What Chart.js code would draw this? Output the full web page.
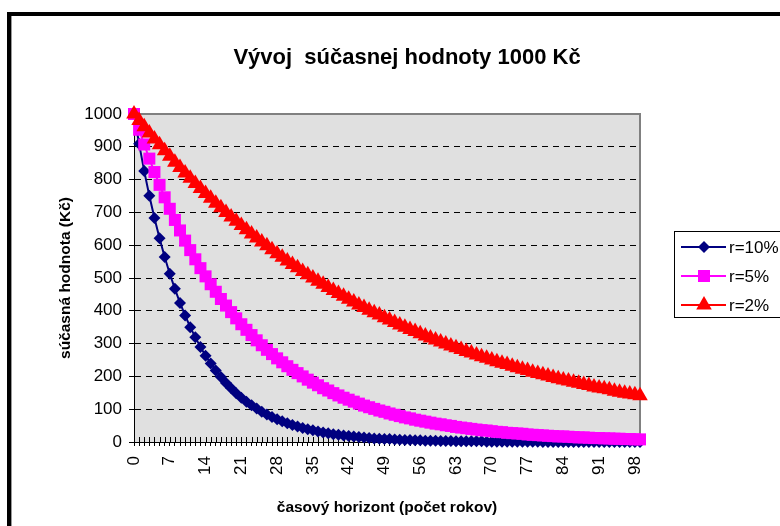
<!DOCTYPE html>
<html>
<head>
<meta charset="utf-8">
<script src="https://cdn.jsdelivr.net/npm/chart.js@4/dist/chart.umd.min.js"></script>
<style>
  html, body { margin: 0; padding: 0; background: #fff; }
  #wrap { width: 780px; height: 526px; position: relative; }
</style>
</head>
<body>
<div id="wrap"><canvas id="pvChart" width="780" height="526"></canvas></div>
<script>
// Data
const chartTitle = 'Vývoj  súčasnej hodnoty 1000 Kč';
const years = Array.from({ length: 100 }, (_, i) => i);
const tickYears = [0, 7, 14, 21, 28, 35, 42, 49, 56, 63, 70, 77, 84, 91, 98];
const yTicks = [0, 100, 200, 300, 400, 500, 600, 700, 800, 900, 1000];

const seriesNames = ['r=10%', 'r=5%', 'r=2%'];

const pv10 = [
    1000, 909, 826, 751, 683, 621, 564, 513, 467, 424,
    386, 350, 319, 290, 263, 239, 218, 198, 180, 164,
    149, 135, 123, 112, 102, 92, 84, 76, 69, 63,
    57, 52, 47, 43, 39, 36, 32, 29, 27, 24,
    22, 20, 18, 17, 15, 14, 12, 11, 10, 9,
    9, 8, 7, 6, 6, 5, 5, 4, 4, 4,
    3, 3, 3, 2, 2, 2, 2, 2, 2, 1,
    1, 1, 1, 1, 1, 1, 1, 1, 1, 1,
    0, 0, 0, 0, 0, 0, 0, 0, 0, 0,
    0, 0, 0, 0, 0, 0, 0, 0, 0, 0
];
const pv5 = [
    1000, 952, 907, 864, 823, 784, 746, 711, 677, 645,
    614, 585, 557, 530, 505, 481, 458, 436, 416, 396,
    377, 359, 342, 326, 310, 295, 281, 268, 255, 243,
    231, 220, 210, 200, 190, 181, 173, 164, 157, 149,
    142, 135, 129, 123, 117, 111, 106, 101, 96, 92,
    87, 83, 79, 75, 72, 68, 65, 62, 59, 56,
    54, 51, 49, 46, 44, 42, 40, 38, 36, 35,
    33, 31, 30, 28, 27, 26, 25, 23, 22, 21,
    20, 19, 18, 17, 17, 16, 15, 14, 14, 13,
    12, 12, 11, 11, 10, 10, 9, 9, 8, 8
];
const pv2 = [
    1000, 980, 961, 942, 924, 906, 888, 871, 853, 837,
    820, 804, 788, 773, 758, 743, 728, 714, 700, 686,
    673, 660, 647, 634, 622, 610, 598, 586, 574, 563,
    552, 541, 531, 520, 510, 500, 490, 481, 471, 462,
    453, 444, 435, 427, 418, 410, 402, 394, 387, 379,
    372, 364, 357, 350, 343, 337, 330, 323, 317, 311,
    305, 299, 293, 287, 282, 276, 271, 265, 260, 255,
    250, 245, 240, 236, 231, 226, 222, 218, 213, 209,
    205, 201, 197, 193, 189, 186, 182, 179, 175, 172,
    168, 165, 162, 159, 155, 152, 149, 146, 144, 141
];

const FONT = '"Liberation Sans", Arial, sans-serif';

// marker drawing shared by the legend
function drawMarker(ctx, style, x, y, r, color) {
    ctx.save();
    ctx.fillStyle = color;
    ctx.beginPath();
    if (style === 'rectRot') {
        ctx.moveTo(x, y - r); ctx.lineTo(x + r, y); ctx.lineTo(x, y + r); ctx.lineTo(x - r, y);
    } else if (style === 'rect') {
        const s = r * Math.SQRT1_2;
        ctx.rect(x - s, y - s, 2 * s, 2 * s);
    } else {
        ctx.moveTo(x, y - r);
        ctx.lineTo(x + r * Math.sin(Math.PI / 3), y + r / 2);
        ctx.lineTo(x - r * Math.sin(Math.PI / 3), y + r / 2);
    }
    ctx.closePath();
    ctx.fill();
    ctx.restore();
}

const decorPlugin = {
    id: 'decor',
    beforeDraw(chart) {
        const ctx = chart.ctx;
        const a = chart.chartArea;
        ctx.save();
        // outer frame
        ctx.fillStyle = '#000';
        ctx.fillRect(7, 12, 773, 4);
        ctx.fillRect(7, 12, 4, 514);
        ctx.fillStyle = '#999';
        ctx.fillRect(11, 16, 1, 510);
        // plot area
        ctx.fillStyle = '#e0e0e0';
        ctx.fillRect(a.left, a.top, a.right - a.left, a.bottom - a.top);
        // title
        ctx.fillStyle = '#000';
        ctx.font = 'bold 22px ' + FONT;
        ctx.textAlign = 'center';
        ctx.textBaseline = 'middle';
        ctx.fillText(chartTitle, 407, 58);
        ctx.restore();
    },
    beforeDatasetsDraw(chart) {
        const ctx = chart.ctx;
        const a = chart.chartArea;
        const xs = chart.scales.x;
        ctx.save();
        ctx.strokeStyle = '#808080';
        ctx.lineWidth = 2;
        ctx.beginPath();
        ctx.moveTo(a.left, a.top);
        ctx.lineTo(a.right, a.top);
        ctx.lineTo(a.right, a.bottom);
        ctx.stroke();
        // category tick marks crossing into the plot
        ctx.strokeStyle = '#000';
        ctx.lineWidth = 1;
        ctx.beginPath();
        xs.ticks.forEach((t, i) => {
            const px = Math.round(xs.getPixelForTick(i)) + 0.5;
            ctx.moveTo(px, a.bottom - 5);
            ctx.lineTo(px, a.bottom);
        });
        ctx.stroke();
        ctx.restore();
    },
    afterDraw(chart) {
        const ctx = chart.ctx;
        ctx.save();
        ctx.fillStyle = '#fff';
        ctx.fillRect(674, 231, 130, 86);
        ctx.strokeStyle = '#000';
        ctx.lineWidth = 1;
        ctx.strokeRect(674.5, 231.5, 130, 86);
        ctx.font = '17px ' + FONT;
        ctx.textBaseline = 'middle';
        ctx.textAlign = 'left';
        const rows = [247, 276, 305];
        chart.data.datasets.forEach((ds, i) => {
            const y = rows[i];
            ctx.strokeStyle = ds.borderColor;
            ctx.lineWidth = 2;
            ctx.beginPath();
            ctx.moveTo(681, y);
            ctx.lineTo(726, y);
            ctx.stroke();
            drawMarker(ctx, ds.pointStyle, 704, y, ds.pointRadius, ds.pointBackgroundColor);
            ctx.fillStyle = '#000';
            ctx.fillText(ds.label, 729, y + 1);
        });
        ctx.restore();
    }
};

const ctx = document.getElementById('pvChart').getContext('2d');
const myChart = new Chart(ctx, {
    type: 'line',
    data: {
        labels: years,
        datasets: [
            {
                label: seriesNames[0], data: pv10,
                borderColor: '#000080', backgroundColor: '#000080',
                pointBackgroundColor: '#000080', pointBorderWidth: 0,
                pointStyle: 'rectRot', pointRadius: 6, borderWidth: 2,
                order: 2, clip: false
            },
            {
                label: seriesNames[1], data: pv5,
                borderColor: '#ff00ff', backgroundColor: '#ff00ff',
                pointBackgroundColor: '#ff00ff', pointBorderWidth: 0,
                pointStyle: 'rect', pointRadius: 8.5, borderWidth: 2,
                order: 1, clip: false
            },
            {
                label: seriesNames[2], data: pv2,
                borderColor: '#ff0000', backgroundColor: '#ff0000',
                pointBackgroundColor: '#ff0000', pointBorderWidth: 0,
                pointStyle: 'triangle', pointRadius: 9, borderWidth: 2,
                order: 0, clip: false
            }
        ]
    },
    options: {
        responsive: false,
        animation: false,
        events: [],
        layout: { padding: { left: 0, top: 114, right: 140, bottom: 0 } },
        plugins: {
            legend: { display: false },
            title: { display: false },
            tooltip: { enabled: false }
        },
        scales: {
            x: {
                type: 'category',
                offset: false,
                afterFit: (scale) => { scale.height = 84; },
                grid: { drawOnChartArea: false, drawTicks: true, tickLength: 4, color: '#000' },
                border: { display: true, color: '#000', width: 1 },
                ticks: {
                    autoSkip: false, minRotation: 90, maxRotation: 90, padding: 10,
                    color: '#000', font: { family: FONT, size: 17 },
                    callback: (v, i) => tickYears.includes(years[i]) ? String(years[i]) : ''
                },
                title: {
                    display: true, text: 'časový horizont (počet rokov)', color: '#000',
                    font: { family: FONT, size: 15.5, weight: 'bold' },
                    padding: { top: 0, bottom: 9 }
                }
            },
            y: {
                min: 0, max: 1000,
                afterFit: (scale) => { scale.width = 134; },
                afterBuildTicks: (scale) => { scale.ticks = yTicks.map(v => ({ value: v })); },
                grid: {
                    color: (c) => (c.tick && (c.tick.value === 0 || c.tick.value === 1000)) ? 'rgba(0,0,0,0)' : '#000',
                    tickColor: '#000', tickLength: 5, drawTicks: true
                },
                border: { display: true, color: '#000', width: 1, dash: [6, 5] },
                ticks: {
                    padding: 7, color: '#000', font: { family: FONT, size: 17 },
                    callback: (v) => String(v)
                },
                title: {
                    display: true, text: 'súčasná hodnota (Kč)', color: '#000',
                    font: { family: FONT, size: 15.5, weight: 'bold' },
                    padding: { top: 56, bottom: 0 }
                }
            }
        }
    },
    plugins: [decorPlugin]
});
</script>
</body>
</html>
